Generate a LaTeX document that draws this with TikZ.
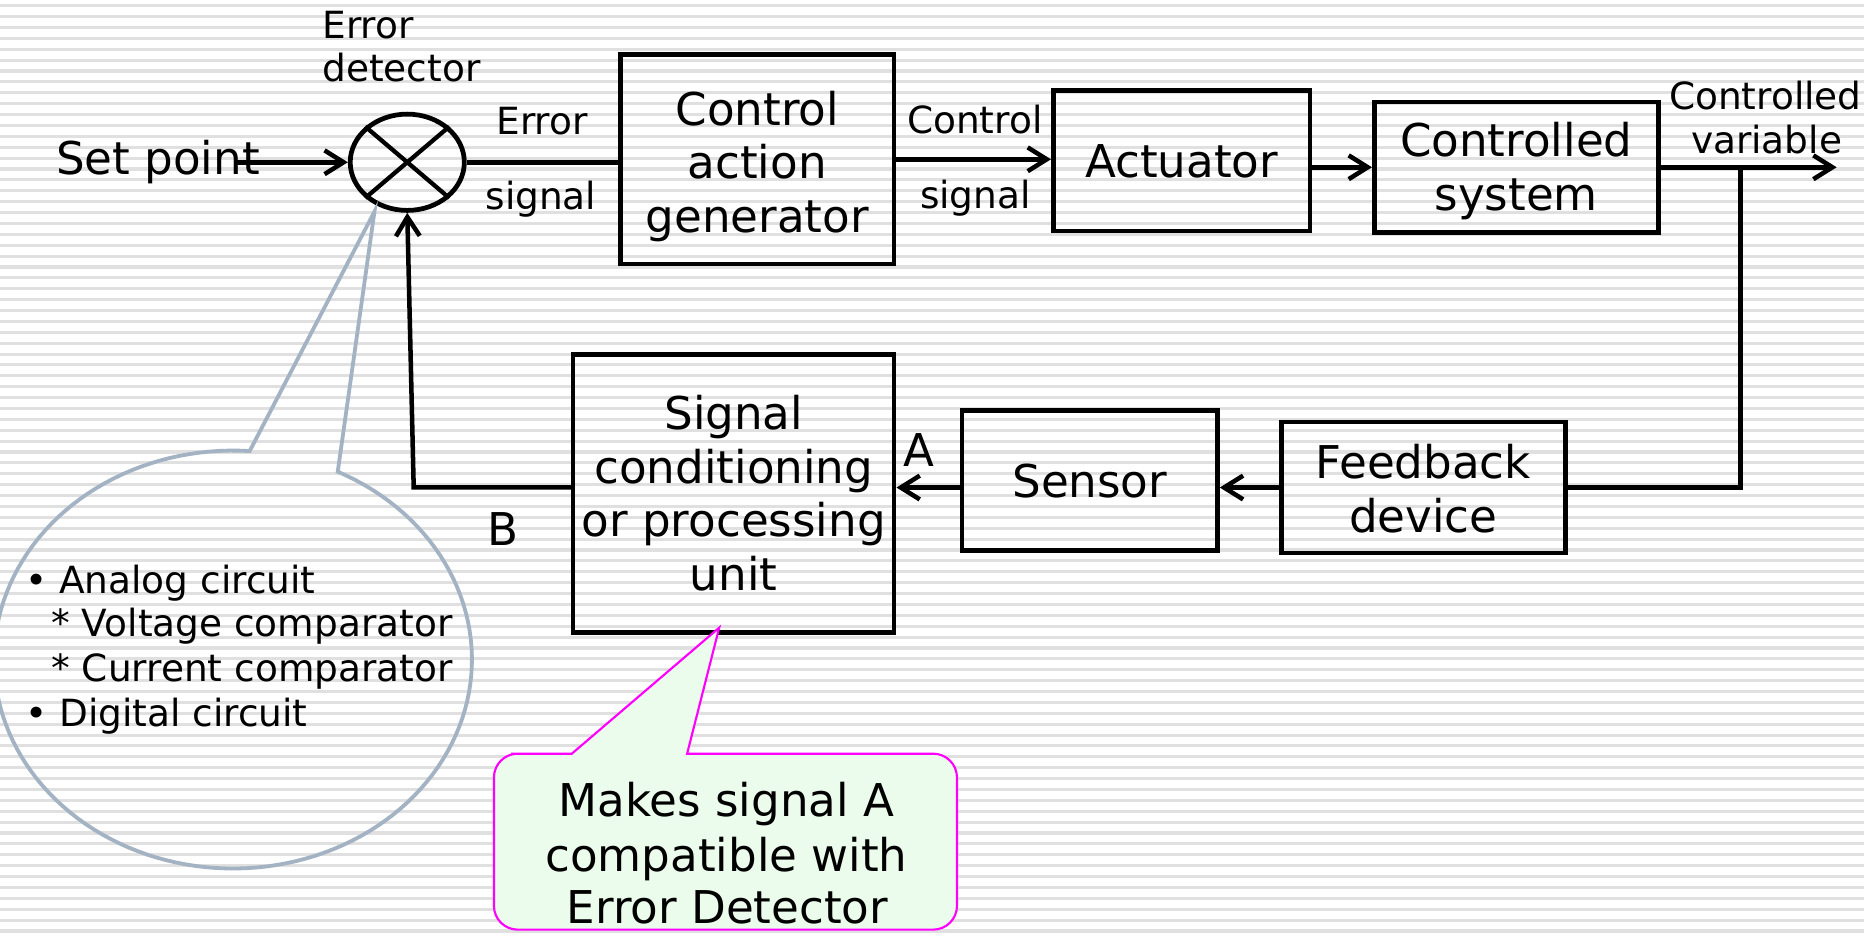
\documentclass[tikz,border=0pt]{standalone}
\usepackage{fontspec}
\setmainfont{DejaVu Sans}
\usetikzlibrary{arrows.meta,shapes.geometric}
\definecolor{stripecol}{RGB}{224,224,224}
\definecolor{calloutgray}{RGB}{163,179,196}
\definecolor{calloutmag}{RGB}{255,0,255}
\definecolor{calloutfill}{RGB}{236,252,236}
\newcommand{\diagbig}{\fontsize{38}{45}\selectfont}
\newcommand{\diagsmall}{\fontsize{31.5}{37}\selectfont}
\tikzset{
  bgstripe/.style={draw=stripecol, line width=2.6pt},
  blk/.style={draw=black, line width=3.8pt, inner sep=0pt},
  boxtxt/.style={inner sep=0pt, align=center, font=\diagbig},
  conn/.style={line width=3.8pt, draw=black},
  arr/.style={conn, -{Straight Barb[length=16pt,width=20pt]}},
  biglbl/.style={inner sep=0pt, font=\diagbig},
  smalllbl/.style={inner sep=0pt, font=\diagsmall},
  callgray/.style={draw=calloutgray, line width=3.2pt},
  callgreen/.style={draw=calloutmag, fill=calloutfill, line width=1.8pt},
}
\begin{document}
\begin{tikzpicture}[x=1pt,y=-1pt]
\useasboundingbox (0,0) rectangle (1568,787);
\clip (0,0) rectangle (1568,787);
\fill[white] (0,0) rectangle (1568,787);
\foreach \i in {0,...,85} \draw[bgstripe] (0,{4.8+9.157*\i}) -- (1568,{4.8+9.157*\i});

% error detector
\node[ellipse, draw=black, line width=4pt, minimum width=96pt, minimum height=81pt, inner sep=0pt] (ed) at (342.6,136.5) {};
\draw[line width=3.6pt] (ed.north west) -- (ed.south east) (ed.north east) -- (ed.south west);

% blocks
\node[blk, minimum width=230pt, minimum height=176pt] (cag) at (637,134) {};
\node[boxtxt] (cagt) at (637,140) {Control\\action\\generator};
\node[blk, minimum width=216pt, minimum height=118pt] (act) at (994,135.2) {};
\node[boxtxt] (actt) at (994,136) {Actuator};
\node[blk, minimum width=239pt, minimum height=110pt] (csys) at (1275.5,140.7) {};
\node[boxtxt] (csyst) at (1275.5,144) {Controlled\\system};
\node[blk, minimum width=239pt, minimum height=110pt] (fbd) at (1197.3,410.1) {};
\node[boxtxt] (fbdt) at (1197.3,411) {Feedback\\device};
\node[blk, minimum width=215pt, minimum height=118pt] (sens) at (916.7,404.2) {};
\node[boxtxt] (senst) at (916.7,405) {Sensor};
\node[blk, minimum width=270pt, minimum height=234pt] (scu) at (617.2,415) {};
\node[boxtxt] (scut) at (617.2,415) {Signal\\conditioning\\or processing\\unit};

% labels
\node[biglbl, anchor=base west] (setpt) at (47,147) {Set point};
\node[smalllbl, anchor=base west] (edl1) at (271,32) {Error};
\node[smalllbl, anchor=base west] (edl2) at (271,68.7) {detector};
\node[smalllbl, anchor=base] (esl1) at (456,113.5) {Error};
\node[smalllbl, anchor=base] (esl2) at (455,176.6) {signal};
\node[smalllbl, anchor=base] (csl1) at (820,112) {Control};
\node[smalllbl, anchor=base] (csl2) at (820.5,175) {signal};
\node[smalllbl, anchor=base] (cvl1) at (1485,91.8) {Controlled};
\node[smalllbl, anchor=base] (cvl2) at (1486,128.8) {variable};
\node[biglbl, anchor=base west] (lblA) at (760,392) {A};
\node[biglbl, anchor=base west] (lblB) at (410,459) {B};

% coordinates
\coordinate (spstart) at (199,136.5);
\coordinate (out) at (1545,140.7);
\coordinate (br) at (1464,140.7);
\coordinate (bc) at (348,410);

% connectors
\draw[arr] (spstart) -- (ed.west);
\draw[conn] (ed.east) -- (ed.east -| cag.west);
\draw[arr] (cag.east) -- (cag.east -| act.west);
\draw[arr] (csys.west -| act.east) -- (csys.west);
\draw[arr] (csys.east) -- (out);
\draw[conn] (br) -- (br |- fbd.east) -- (fbd.east);
\draw[arr] (fbd.west) -- (fbd.west -| sens.east);
\draw[arr] (sens.west |- fbd.west) -- (scu.east |- fbd.west);
\draw[arr] (scu.west |- bc) -- (bc) -- (ed.south);

% left callout
\draw[callgray] plot[domain=-64:274, samples=140] ({196+201*cos(\x)},{554.8+175.8*sin(\x)}) -- (315,178) -- cycle;
\node[smalllbl, anchor=base west] (li1) at (21,499) {• Analog circuit};
\node[smalllbl, anchor=base west] (li2) at (43,535.6) {* Voltage comparator};
\node[smalllbl, anchor=base west] (li3) at (43,573.5) {* Current comparator};
\node[smalllbl, anchor=base west] (li4) at (21,611.3) {• Digital circuit};

% right callout
\draw[callgreen] (481,634) -- (605,528) -- (578,634) -- (600,634) [rounded corners=20pt] -- (805,634) -- (805,782) -- (415.5,782) -- (415.5,634) -- (450,634) [sharp corners] -- cycle;
\node[biglbl, anchor=base] (gt1) at (611,687) {Makes signal A};
\node[biglbl, anchor=base] (gt2) at (611,733) {compatible with};
\node[biglbl, anchor=base] (gt3) at (612,776.6) {Error Detector};
\end{tikzpicture}
\end{document}
